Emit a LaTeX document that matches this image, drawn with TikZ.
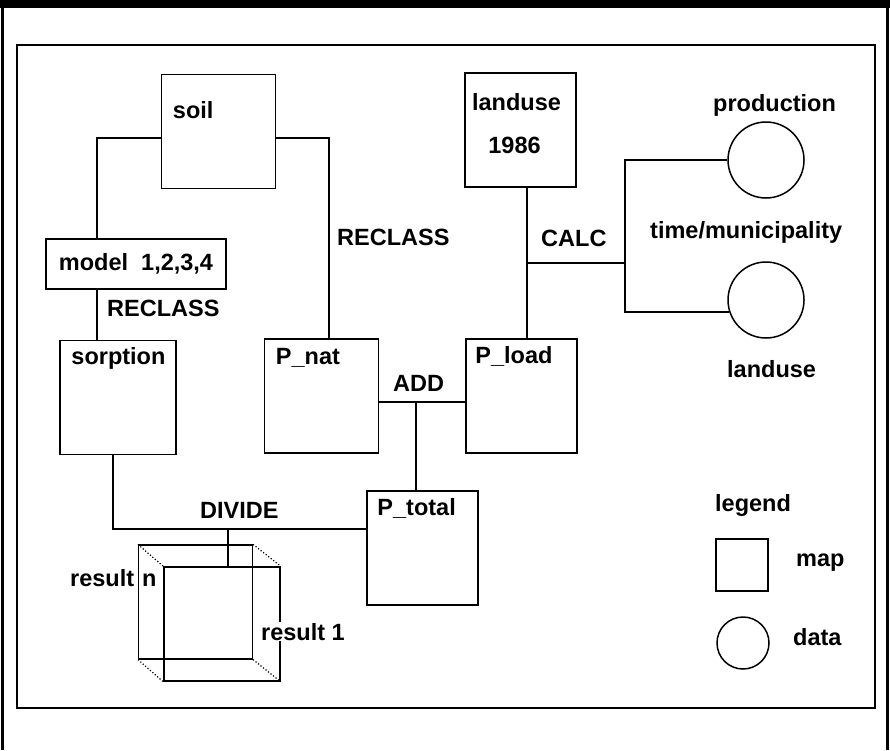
\documentclass[tikz,border=0pt]{standalone}
\usepackage{fontspec}
\setmainfont{Liberation Sans}
\usepackage{tikz}
\usetikzlibrary{calc,positioning}

\begin{document}
\begin{tikzpicture}[
    x=1pt, y=-1pt,
    mapbox/.style={draw, line width=1.5pt, inner sep=0pt, minimum width=114pt, minimum height=114pt},
    databox/.style={draw, circle, line width=1.5pt, inner sep=0pt, minimum size=76pt},
    link/.style={line width=1.6pt},
    hidden/.style={line width=1.2pt, dotted},
    txt/.style={font=\fontsize{23.5}{27}\selectfont\bfseries, inner sep=0pt, anchor=base west}
]
\useasboundingbox (0,0) rectangle (890,750);
% page edges and frame
\fill (0,0) rectangle (890,8);
\draw[line width=3pt] (2,0) -- (2,750);
\draw[line width=3pt] (887,0) -- (887,750);
\draw[line width=2pt] (17,45) rectangle (875,708);

% maps
\node[mapbox] (soil) at (218.5,131.5) {};
\node[mapbox, minimum width=111pt] (landuse) at (520.5,130) {};
\node[draw, line width=1.5pt, minimum width=180pt, minimum height=50pt, inner sep=0pt,
      font=\fontsize{23.5}{27}\selectfont\bfseries] (model) at (136,264) {model~~1,2,3,4};
\node[mapbox, minimum width=116pt] (sorption) at (118,397.5) {};
\node[mapbox] (pnat) at (321.5,396) {};
\node[mapbox, minimum width=111pt] (pload) at (521.5,396) {};
\node[mapbox, minimum width=111pt] (ptotal) at (422.5,548) {};
\node[mapbox, line width=1.2pt] (resn) at (195.5,602) {};
\node[mapbox, minimum width=116pt] (res1) at (222,624) {};

\node[txt] (soiltxt) at ($(soil.north west)+(12,45)$) {soil};
\node[txt, anchor=base] (lutxt) at ($(landuse.north)+(-4,38)$) {landuse};
\node[txt, anchor=base] (yeartxt) at ($(landuse.north)+(-6,81)$) {1986};
\node[txt] (sorptxt) at ($(sorption.north west)+(12,25)$) {sorption};
\node[txt] (pnattxt) at ($(pnat.north west)+(12,26)$) {P\_nat};
\node[txt] (ploadtxt) at ($(pload.north west)+(10,25)$) {P\_load};
\node[txt] (ptottxt) at ($(ptotal.north west)+(11,25)$) {P\_total};

% data
\node[databox] (prod) at (766,160) {};
\node[databox] (luse) at (766,300) {};
\node[txt] (prodtxt) at (713,111) {production};
\node[txt] (timetxt) at (650,238) {time/municipality};
\node[txt] (lusetxt) at (727,377) {landuse};

% operations
\coordinate (jl) at (97,138);
\coordinate (jr) at (329,138);
\coordinate (jc) at (527,263);
\coordinate (jt) at (625,263);
\coordinate (ja) at (416,402);
\coordinate (jd) at (113,529);
\coordinate (jx) at (228,529);

\draw[link] (soil.west |- jl) -| (model.north -| jl);
\draw[link] (model.south -| jl) -- (sorption.north -| jl);
\draw[link] (soil.east |- jr) -| (pnat.north -| jr);
\draw[link] (landuse.south -| jc) -- (pload.north -| jc);
\draw[link] (jc) -- (jt);
\draw[link] (prod.west) -| (jt);
\draw[link] (luse.198) -| (jt);
\draw[link] (pnat.east |- ja) -- (pload.west |- ja);
\draw[link] (ja) -- (ptotal.north -| ja);
\draw[link] (sorption.south -| jd) |- (ptotal.west |- jd);
\draw[link] (jx) -- (res1.north -| jx);

\foreach \c in {north west,north east,south west,south east}
  \draw[hidden] (resn.\c) -- (res1.\c);

\node[txt] (rc1) at (337,245) {RECLASS};
\node[txt] (rc2) at (107,316) {RECLASS};
\node[txt] (calc) at (541,246) {CALC};
\node[txt] (add) at (393,391) {ADD};
\node[txt] (divide) at (200,518) {DIVIDE};
\node[txt] (resntxt) at (70,586) {result\hspace{8pt}n};
\node[txt, fill=white, inner sep=1pt] (res1txt) at (260,640) {result 1};

% legend
\node[txt] (legtxt) at (715,511) {legend};
\node[mapbox, minimum size=52pt] (legmap) at (742,565) {};
\node[databox, minimum size=52pt] (legdata) at (743,643) {};
\node[txt] (maptxt) at (796,566) {map};
\node[txt] (datatxt) at (793,645) {data};
\end{tikzpicture}
\end{document}
